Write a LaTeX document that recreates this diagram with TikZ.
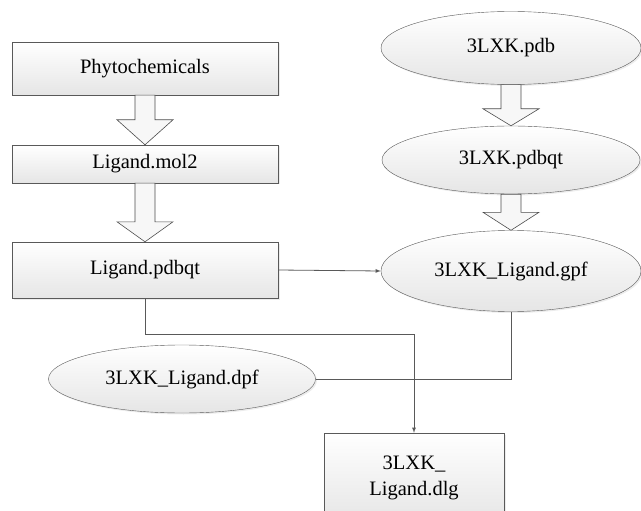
\documentclass[tikz,border=0pt]{standalone}
\usepackage{fontspec}
\setmainfont{Liberation Serif}
\usetikzlibrary{shapes.geometric,calc,shadows}
\tikzset{
  file/.style={draw=black!65, top color=white, bottom color=black!10,
    drop shadow={opacity=0.15, shadow xshift=1.5pt, shadow yshift=-1.5pt},
    font=\fontsize{20.5}{26}\selectfont, inner sep=0pt},
  filebox/.style={file, rectangle, minimum width=266pt},
  fileoval/.style={file, ellipse},
  link/.style={draw=black!65, line width=0.8pt},
  fat/.style={draw=black!70, line width=0.6pt, fill=black!3}
}
% hollow block arrow: from, to, head length
\newcommand{\fatarrow}[3]{%
\draw[fat] ($(#1)+(-10,0)$)--($(#2)+(-10,-#3)$)--($(#2)+(-28,-#3)$)--(#2)
--($(#2)+(28,-#3)$)--($(#2)+(10,-#3)$)--($(#1)+(10,0)$)--cycle;}
\begin{document}
\begin{tikzpicture}[x=1pt,y=-1pt,>=latex]
\useasboundingbox (0,0) rectangle (641,511);
\node[filebox, minimum height=53pt] (phyto) at (145,68.5) {Phytochemicals};
\node[filebox, minimum height=38pt] (mol) at (145,164) {Ligand.mol2};
\node[filebox, minimum height=56pt] (lpdbqt) at (145,270) {Ligand.pdbqt};
\node[fileoval, minimum width=260pt, minimum height=73pt] (pdb) at (511,48) {3LXK.pdb};
\node[fileoval, minimum width=258pt, minimum height=68pt] (pdbqt) at (511,160) {3LXK.pdbqt};
\node[fileoval, minimum width=260pt, minimum height=81pt] (gpf) at (511,271) {3LXK\_Ligand.gpf};
\node[fileoval, minimum width=267pt, minimum height=68pt] (dpf) at (182,379) {3LXK\_Ligand.dpf};
\node[filebox, minimum width=180pt, minimum height=90pt, align=center] (dlg) at (414,478) {3LXK\_\\Ligand.dlg};
\coordinate (split) at (280,334);
\fatarrow{phyto.south}{mol.north}{25}
\fatarrow{mol.south}{lpdbqt.north}{20}
\fatarrow{pdb.south}{pdbqt.north}{17}
\fatarrow{pdbqt.south}{gpf.north}{18}
\draw[link,->] (lpdbqt.east) -- (gpf.west);
\draw[link,->] (lpdbqt.south) -- (lpdbqt.south |- split) -| (dlg.north);
\draw[link] (gpf.south) |- (dpf.east);
\end{tikzpicture}
\end{document}
